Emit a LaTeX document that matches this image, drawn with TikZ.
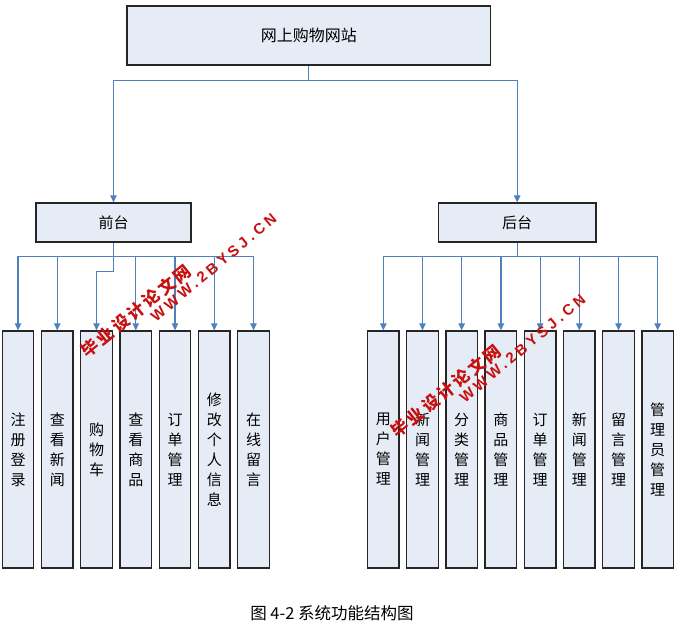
\documentclass[tikz,border=0pt]{standalone}
\usepackage{fontspec}
\setmainfont{Noto Sans CJK SC}
\newfontfamily\wmcn[LetterSpace=16]{Noto Sans CJK SC}
\newfontfamily\wmen[LetterSpace=24]{Liberation Sans}
\usetikzlibrary{arrows.meta}
\definecolor{boxfill}{RGB}{230,236,246}
\definecolor{conn}{RGB}{79,129,189}
\definecolor{wmred}{RGB}{200,16,16}
\tikzset{
  box/.style={draw=black!85, line width=1.3pt, fill=boxfill, inner sep=0pt},
  leaf/.style={box, minimum width=31.6pt, minimum height=237pt, align=center, font=\fontsize{15}{20}\selectfont},
  link/.style={draw=conn, line width=1.2pt},
  arr/.style={link, -{Triangle[length=7pt,width=6.5pt]}},
  wm/.style={text=wmred, inner sep=0pt, font=\bfseries}
}
\begin{document}
\begin{tikzpicture}[x=1pt,y=-1pt]
\fill[white] (0,0) rectangle (688,644);
\useasboundingbox (0,0) rectangle (688,644);

\node[box, minimum width=363.7pt, minimum height=59pt, font=\fontsize{16}{16}\selectfont] (top) at (308.85,35.6) {网上购物网站};
\node[box, minimum width=155pt, minimum height=39pt, font=\fontsize{15}{15}\selectfont] (qt) at (113.5,222.5) {前台};
\node[box, minimum width=157.7pt, minimum height=39pt, font=\fontsize{15}{15}\selectfont] (ht) at (517.2,222.5) {后台};

\foreach \t [count=\i from 0] in {{注\\册\\登\\录},{查\\看\\新\\闻},{购\\物\\车},{查\\看\\商\\品},{订\\单\\管\\理},{修\\改\\个\\人\\信\\息},{在\\线\\留\\言}}
  \node[leaf] (L\i) at ({18+39.25*\i},449.5) {\t};

\foreach \t [count=\i from 0] in {{用\\户\\管\\理},{新\\闻\\管\\理},{分\\类\\管\\理},{商\\品\\管\\理},{订\\单\\管\\理},{新\\闻\\管\\理},{留\\言\\管\\理},{管\\理\\员\\管\\理}}
  \node[leaf] (R\i) at ({383.3+39.2*\i},449.5) {\t};

% top connectors
\path (top.south) ++(0,15) coordinate (hub);
\draw[link] (top.south) -- (hub);
\draw[arr] (hub) -| (qt.north);
\draw[arr] (hub) -| (ht.north);

% front-end connectors
\path (qt.south) ++(0,14) coordinate (qbus);
\path (qt.south) ++(0,29) coordinate (qbend);
\draw[link] (qt.south) -- (qbus);
\foreach \i in {0,1,3,4,5,6}
  \draw[arr] (qbus) -| (L\i.north);
\draw[arr] (qt.south) -- (qbend) -| (L2.north);

% back-end connectors
\path (ht.south) ++(0,14) coordinate (hbus);
\draw[link] (ht.south) -- (hbus);
\foreach \i in {0,...,7}
  \draw[arr] (hbus) -| (R\i.north);

% caption
\node[font=\fontsize{16.5}{16.5}\selectfont] (cap) at (332,613) {图 4-2 系统功能结构图};

% watermarks
\node[wm, rotate=39, font=\bfseries\fontsize{17}{17}\selectfont] (wm1a) at (135.9,310.9) {\wmcn 毕业设计论文网};
\node[wm, rotate=40, font=\bfseries\fontsize{15}{15}\selectfont] (wm1b) at (213.5,267.5) {\wmen WWW.2BYSJ.CN};
\node[wm, rotate=39, font=\bfseries\fontsize{17}{17}\selectfont] (wm2a) at (445.9,390.9) {\wmcn 毕业设计论文网};
\node[wm, rotate=40, font=\bfseries\fontsize{15}{15}\selectfont] (wm2b) at (522.5,348.5) {\wmen WWW.2BYSJ.CN};
\end{tikzpicture}
\end{document}
